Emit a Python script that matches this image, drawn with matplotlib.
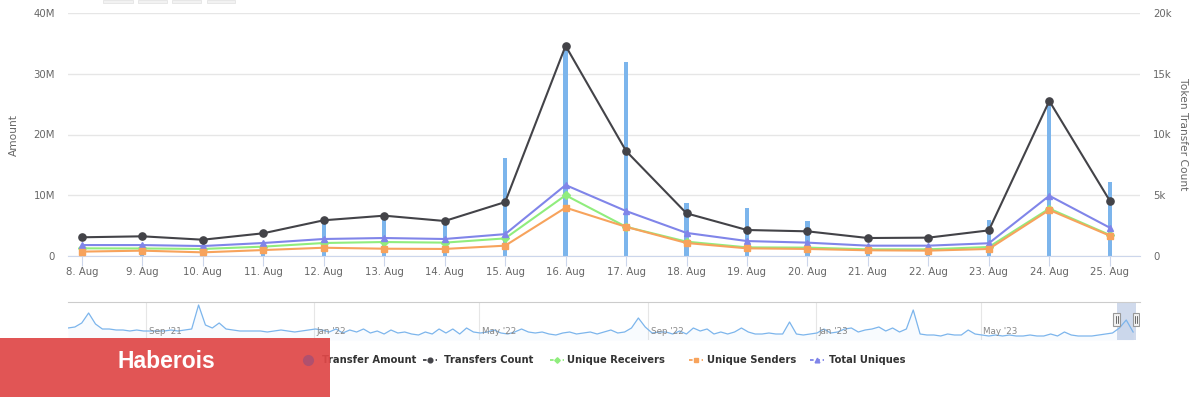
import datetime as dt
import numpy as np
import matplotlib
matplotlib.use("Agg")
import matplotlib.pyplot as plt
import matplotlib.dates as mdates
from matplotlib.patches import Rectangle
from matplotlib.lines import Line2D

# main chart data (18 days)
days = ['8. Aug', '9. Aug', '10. Aug', '11. Aug', '12. Aug', '13. Aug', '14. Aug', '15. Aug', '16. Aug',
        '17. Aug', '18. Aug', '19. Aug', '20. Aug', '21. Aug', '22. Aug', '23. Aug', '24. Aug', '25. Aug']
transfer_amount = [0.3, 0.5, 0.2, 1.2, 5.4, 5.9, 5.6, 16.1, 34.0, 32.0, 8.8, 7.9, 5.7, 0.8, 0.7, 6.0, 25.7, 12.2]  # M
transfers_count = [1.54, 1.62, 1.34, 1.87, 2.94, 3.32, 2.88, 4.44, 17.3, 8.64, 3.51, 2.14, 2.03, 1.48, 1.51, 2.11, 12.76, 4.55]  # k
unique_receivers = [0.63, 0.62, 0.58, 0.77, 1.07, 1.15, 1.10, 1.45, 5.0, 2.4, 1.18, 0.71, 0.69, 0.55, 0.55, 0.74, 3.9, 1.73]
unique_senders = [0.36, 0.44, 0.30, 0.49, 0.68, 0.60, 0.58, 0.85, 3.98, 2.4, 1.07, 0.63, 0.58, 0.47, 0.44, 0.58, 3.79, 1.67]
total_uniques = [0.90, 0.90, 0.82, 1.07, 1.40, 1.48, 1.40, 1.80, 5.84, 3.7, 1.90, 1.23, 1.10, 0.85, 0.85, 1.05, 4.96, 2.33]

# navigator series: transfer amount, one value every 5 days from 6 Jul 2021
nav_start = dt.date(2021, 7, 6)
nav_amount = [9, 10, 14, 24, 13, 8, 8, 7, 7, 6, 7, 6,
              6, 6, 6, 7, 6, 7, 8, 32, 12, 9, 14, 8, 7, 6, 6, 6, 6, 5, 6, 7, 6, 5, 6, 7,
              8, 7, 5, 8, 4, 7, 5, 8, 4, 6, 3, 7, 4, 5, 3, 2, 5, 3, 8, 4, 8, 3, 9, 5,
              4, 5, 7, 4, 3, 5, 8, 5, 4, 5, 3, 2, 4, 5, 3, 4, 5, 3, 5, 7, 4, 5, 9, 19,
              10, 4, 5, 5, 3, 6, 3, 9, 6, 8, 3, 5, 3, 5, 9, 5, 3, 3, 4, 3, 3, 15, 3, 2, 3,
              4, 8, 4, 5, 8, 9, 5, 7, 8, 10, 6, 9, 5, 8, 27, 3, 2, 2, 1, 3, 2, 2, 7, 3,
              2, 1, 2, 1, 2, 1, 1, 2, 1, 1, 3, 1, 5, 2, 1, 1, 1, 2, 3, 4, 9, 17, 5]
nav_label_dates = [dt.date(2021, 9, 1), dt.date(2022, 1, 1), dt.date(2022, 5, 1),
                   dt.date(2022, 9, 1), dt.date(2023, 1, 1), dt.date(2023, 5, 1)]
nav_labels = ["Sep '21", "Jan '22", "May '22", "Sep '22", "Jan '23", "May '23"]
legend_names = ['Transfer Amount', 'Transfers Count', 'Unique Receivers', 'Unique Senders', 'Total Uniques']

W, H = 1200, 397
def fx(x): return x / W
def fy(y): return 1 - y / H

GRID = '#e6e6e6'
AXC = '#ccd6eb'
TXT = '#666666'

fig = plt.figure(figsize=(12, 3.97), dpi=100)
fig.patch.set_facecolor('white')

# ---- main chart
ax = fig.add_axes([fx(68), fy(256), fx(1140) - fx(68), fy(13) - fy(256)])
x = np.arange(len(days))
ax.bar(x, transfer_amount, width=0.07, color='#7cb5ec', zorder=2)
ax.set_xlim(-0.23, 17.5)
ax.set_ylim(0, 40)
ax.set_yticks([0, 10, 20, 30, 40])
ax.set_yticklabels(['0', '10M', '20M', '30M', '40M'])
ax.set_xticks(x)
ax.set_xticklabels(days)
ax.set_axisbelow(True)
ax.grid(axis='y', color=GRID, lw=1)
for s in ['top', 'right', 'left']:
    ax.spines[s].set_visible(False)
ax.spines['bottom'].set_color(AXC)
ax.tick_params(axis='x', length=7, color=AXC, pad=1, labelsize=7.3, labelcolor=TXT)
ax.tick_params(axis='y', length=0, pad=9.4, labelsize=7.3, labelcolor=TXT)
ax.set_ylabel('Amount', fontsize=7.7, color=TXT)
ax.yaxis.set_label_coords(fx(19 - 68) / (fx(1140) - fx(68)), 0.5)

ax2 = ax.twinx()
ax2.set_ylim(0, 20)
ax2.plot(x, transfers_count, color='#434348', lw=1.5, marker='o', ms=5.2, zorder=5)
ax2.plot(x, unique_receivers, color='#90ed7d', lw=1.5, marker='D', ms=3.8, zorder=3)
ax2.plot(x, unique_senders, color='#f7a35c', lw=1.5, marker='s', ms=4.6, zorder=4)
ax2.plot(x, total_uniques, color='#8085e9', lw=1.5, marker='^', ms=5.0, zorder=3)
ax2.set_yticks([0, 5, 10, 15, 20])
ax2.set_yticklabels(['0', '5k', '10k', '15k', '20k'])
for s in ['top', 'right', 'left', 'bottom']:
    ax2.spines[s].set_visible(False)
ax2.tick_params(axis='y', length=0, pad=9.4, labelsize=7.3, labelcolor=TXT)
ax2.set_ylabel('Token Transfer Count', fontsize=7.7, color=TXT, rotation=270)
ax2.yaxis.set_label_coords(1 + (1188 - 1140) / (1140 - 68), 0.5)

# ---- navigator
nav = fig.add_axes([fx(68), fy(340), fx(1140) - fx(68), fy(302) - fy(340)])
nav_dates = [nav_start + dt.timedelta(days=5 * i) for i in range(len(nav_amount))]
nav.plot(nav_dates, nav_amount, color='#7cb5ec', lw=0.9)
nav.fill_between(nav_dates, nav_amount, -3, color='#7cb5ec', alpha=0.05, lw=0)
nav.set_xlim(nav_start, dt.date(2023, 8, 25))
nav.set_ylim(-3, 35)
for d, lab in zip(nav_label_dates, nav_labels):
    nav.axvline(d, color=GRID, lw=0.8, zorder=0)
    nav.text(mdates.date2num(d) + 2, 6, lab, fontsize=6.3, color='#888888', va='center', ha='left')
nav.axvspan(dt.date(2023, 8, 8), dt.date(2023, 8, 22), color='#6685c2', alpha=0.3, lw=0)
for d in [dt.date(2023, 8, 8), dt.date(2023, 8, 22)]:
    dn = mdates.date2num(d)
    nav.add_patch(Rectangle((dn - 2.3, 11), 4.6, 13, facecolor='#f2f2f2', edgecolor='#999999', lw=0.8, zorder=6))
    nav.plot([dn - 0.8, dn - 0.8], [14, 21], color='#333333', lw=0.5, zorder=7)
    nav.plot([dn + 0.8, dn + 0.8], [14, 21], color='#333333', lw=0.5, zorder=7)
nav.set_xticks([])
nav.set_yticks([])
for s in ['right', 'left', 'bottom']:
    nav.spines[s].set_visible(False)
nav.spines['top'].set_color('#cccccc')

# range selector buttons (cut off at top)
for x0, x1 in [(103, 133), (138, 167), (172, 201), (207, 235)]:
    fig.add_artist(Rectangle((fx(x0), fy(2.5)), fx(x1 - x0), 2.5 / H, transform=fig.transFigure,
                             facecolor='#f2f2f2', edgecolor='#e0e0e0', lw=0.5))

# ---- legend
ly = fy(360)
lfont = dict(fontsize=7.2, color='#333333', fontweight='bold', va='center', ha='left', zorder=4)
fig.text(fx(322), ly, legend_names[0], **lfont)
items = [(430, 444, '#434348', 'o', 3.4), (557, 567, '#90ed7d', 'D', 2.8),
         (696, 707, '#f7a35c', 's', 3.2), (817, 829, '#8085e9', '^', 3.4)]
for (cx, tx, c, m, ms), name in zip(items, legend_names[1:]):
    fig.add_artist(Line2D([fx(cx - 7), fx(cx + 7)], [ly, ly], transform=fig.transFigure,
                          color=c, lw=1.3, dashes=(2, 1.5)))
    fig.add_artist(Line2D([fx(cx)], [ly], transform=fig.transFigure, color=c, marker=m, ms=ms, lw=0))
    fig.text(fx(tx), ly, name, **lfont)

# ---- branding box
box = Rectangle((0, 0), fx(330), fy(338), transform=fig.transFigure,
                facecolor='#df4848', alpha=0.93, lw=0, zorder=5)
fig.add_artist(box)
fig.add_artist(Line2D([fx(308)], [ly], transform=fig.transFigure, marker='o', ms=7,
                      color='#b0506e', lw=0, zorder=6))
fig.text(fx(166), fy(362), 'Haberois', fontsize=16.5, color='white', fontweight='bold',
         family='Liberation Sans', ha='center', va='center', zorder=7)

fig.savefig('out.png', dpi=100)
